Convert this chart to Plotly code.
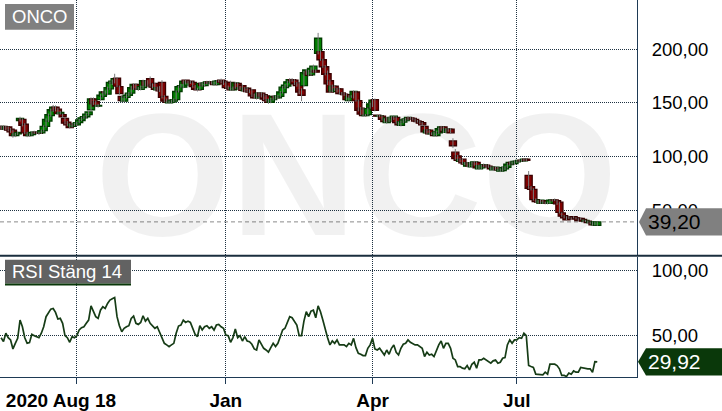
import numpy as np
import pandas as pd
import plotly.graph_objects as go

W, H = 722, 411
FONT = "Liberation Sans"

# Stockholm trading days, Aug 18 2020 - Aug 18 2021
holidays = ["2020-12-24", "2020-12-25", "2020-12-31", "2021-01-01", "2021-01-06",
            "2021-04-02", "2021-04-05", "2021-05-13", "2021-06-25"]
dates = pd.bdate_range("2020-08-18", "2021-08-18", freq="C", holidays=holidays)

opens = [
    126, 128, 125.5, 127.5, 125.5, 124.5, 119.5, 121, 133.5, 134.5,
    130, 122, 119.5, 120.5, 122, 122.5, 122, 122, 124, 128,
    133, 138, 142.5, 146, 144, 140, 139, 135.5, 132, 130,
    128, 130, 129.5, 131.5, 133.5, 136, 137, 139, 143.5, 153.5,
    151, 147, 153, 156, 160, 158, 163, 168, 169, 173,
    165, 156, 151.5, 155, 157, 159, 163, 167, 163, 162.5,
    164, 170, 166, 172.5, 167, 168, 162, 164, 169, 156,
    152.5, 150, 150.5, 151.5, 153, 160.5, 165, 164.5, 171, 166.5,
    170, 169, 166, 163, 162.5, 168, 166, 168, 169.5, 168,
    169, 167, 170, 171, 170, 169, 164, 169, 162, 164,
    168, 163, 166, 161, 163.5, 161, 162, 157, 159, 154.5,
    159, 157.5, 156.5, 153, 150.5, 153, 156, 154.5, 156, 159.5,
    164, 165.5, 169, 171.5, 171, 168, 168.5, 162, 166, 177,
    179.5, 176, 179, 180, 196, 197.5, 190, 183.5, 177, 170.5,
    161, 165.5, 160.5, 163, 159, 158, 157.5, 152, 156, 155,
    160, 152, 145, 144, 138, 139, 145.5, 147, 153, 138.5,
    137.5, 137.5, 134.5, 131.5, 136, 133, 135, 136.5, 131.5, 129,
    132, 133.5, 134.5, 136, 135.5, 134.5, 133, 132.5, 131.5, 128,
    122, 124.5, 121, 122, 119.5, 122, 125, 127.5, 122.5, 124,
    125.5, 114.5, 104, 100.5, 95.5, 97.5, 94, 91, 94, 90.5,
    92.5, 94.5, 88.5, 89.5, 91, 92, 91, 90, 87.5, 88.5,
    89.5, 86.5, 87, 88.5, 90, 92.5, 94.5, 93.5, 95, 95.5,
    96.5, 96, 97.5, 82.5, 72, 69.5, 60, 58, 56.5, 59,
    56.5, 57.5, 56.5, 59, 59.5, 59, 57.5, 47.5, 45, 44,
    44, 43, 44, 43, 42.5, 42.5, 41.5, 40, 40, 38.5,
    38.5, 36.5, 36,
]
highs = [
    129, 129, 128.5, 128, 126.5, 125, 122, 123, 137, 135.5,
    131, 123, 121.5, 123.5, 124, 123.5, 123, 125, 129, 135.5,
    140, 144.5, 148, 147.5, 145, 142.5, 140, 136.5, 133, 131,
    131, 131.5, 132.5, 135, 137, 138, 140.5, 142.5, 155, 155,
    152, 149, 158, 161, 161.5, 165, 170, 171.5, 177, 174,
    166, 157, 156, 158.5, 160, 165.5, 168, 168, 164.5, 166,
    171.5, 171, 171, 174.5, 168, 169, 165, 165.5, 171, 157,
    154, 152, 153, 154, 161.5, 166, 167.5, 171, 172, 170.5,
    171, 170, 166.5, 164, 169, 169, 169.5, 170.5, 170.5, 170,
    170, 171, 172, 172.5, 171, 170, 166, 170.5, 165, 169.5,
    169, 165.5, 167, 164.5, 164.5, 162.5, 163, 158.5, 160, 160,
    160, 158.5, 157.5, 154, 154.5, 157, 157, 157.5, 161, 165.5,
    167.5, 170.5, 173, 173, 172, 169.5, 169.5, 163.5, 179.5, 181.5,
    180.5, 183, 185.5, 181, 215, 199, 191, 185, 180, 171.5,
    167, 166.5, 164, 164, 160, 159.5, 158.5, 157, 157, 161.5,
    161, 153, 146, 145, 139.5, 145.5, 150, 153.5, 154, 139,
    139, 138.5, 135.5, 137, 137, 137.5, 138.5, 137.5, 132.5, 133.5,
    135, 136, 137.5, 137, 136.5, 135.5, 134, 133.5, 132, 128.5,
    125.5, 125, 122.5, 123, 124, 127, 128.5, 128, 126.5, 126.5,
    126.5, 117, 107, 101.5, 98.5, 98, 95, 95, 95, 95,
    96, 95.5, 92.5, 92.5, 93.5, 93, 92, 91, 90.5, 91,
    90.5, 89, 90.5, 91, 94, 95.5, 95.5, 96.5, 96.5, 97.5,
    97.5, 98.5, 98.5, 86.5, 72.5, 70.5, 61, 59.5, 60, 59.5,
    58, 58, 60, 60.5, 61, 59.5, 58, 48, 45.5, 44.5,
    44.5, 43.5, 44.5, 43.5, 42.5, 43, 41.5, 41, 40.5, 39.5,
    39, 39, 39.6,
]
lows = [
    125, 124.5, 124.5, 123.5, 122, 117.5, 118, 120, 132.5, 128,
    121, 118, 118.5, 119.5, 121, 120.5, 120, 121, 123, 127,
    132, 137, 141.5, 142, 139, 139, 136, 130, 128.5, 126,
    127, 128.5, 128.5, 131, 133, 135, 136, 138, 142.5, 148,
    146, 145.5, 152, 155, 157.5, 157, 162, 166.5, 168, 164.5,
    157.5, 150.5, 150.5, 154, 156, 158, 162, 162, 161, 161.5,
    163, 165, 165, 165, 163.5, 161.5, 161, 160, 154, 150.5,
    149.5, 149, 149.5, 150.5, 152, 159.5, 164, 163.5, 167, 165.5,
    167.5, 164, 161.5, 160.5, 161.5, 165, 165, 167, 167, 167,
    166, 166, 169, 168, 166.5, 163, 162.5, 161, 161, 163,
    162, 162, 160.5, 160, 159.5, 159, 155.5, 153.5, 153, 153.5,
    155, 152.5, 151, 149, 149.5, 152, 153, 153.5, 155, 158.5,
    163, 164.5, 168, 169.5, 166.5, 165, 158, 151.5, 165, 176,
    174.5, 175, 178, 177.5, 195, 189, 182.5, 175.5, 166.5, 159,
    160, 161, 159.5, 157.5, 157, 156.5, 152, 151, 154.5, 154,
    151, 142, 138.5, 137, 137, 138, 144.5, 146, 142, 136.5,
    136.5, 133.5, 131.5, 130.5, 132, 132, 134, 130.5, 128.5, 128,
    131, 132.5, 133.5, 134, 133.5, 132, 131.5, 130, 128.5, 122,
    121, 120, 120, 118.5, 118.5, 121, 124, 122, 121.5, 123,
    121, 108, 97, 95.5, 94.5, 93, 92, 90, 90, 89.5,
    91.5, 88.5, 87.5, 88.5, 90, 90, 89.5, 87.5, 86.5, 87.5,
    86.5, 85.5, 86, 87.5, 89, 91.5, 92.5, 92.5, 94, 94.5,
    95, 95, 95.5, 70, 68.5, 59, 57, 56, 56, 56,
    55.5, 55.5, 56, 58, 58.5, 55, 47, 44, 42.5, 40.5,
    42, 41.5, 42.5, 41.5, 40, 41, 39, 39, 38, 37,
    36, 36, 35.5,
]
closes = [
    128, 125.5, 127.5, 124.5, 123, 119.5, 121, 122.5, 135.5, 129,
    122, 119.5, 120.5, 122.5, 122.5, 122, 121.5, 124, 128, 134.5,
    139, 143.5, 146, 143, 140, 141, 137, 131, 129.5, 127,
    130, 129.5, 131.5, 134, 136, 137, 139.5, 141.5, 153.5, 149,
    147, 147.5, 157, 160, 159.5, 164, 169, 170, 172.5, 165.5,
    158.5, 152, 155, 157, 159, 164, 167, 163, 162.5, 165,
    170.5, 166, 170, 166, 164.5, 162.5, 164, 161, 155, 151.5,
    150.5, 150.5, 152, 153, 160.5, 165, 166, 170, 168, 169.5,
    168.5, 165, 162.5, 162, 168, 166, 168.5, 169.5, 168, 169,
    167, 170, 170.5, 169, 167.5, 164, 163.5, 162, 164, 168.5,
    163, 164, 161.5, 163.5, 160.5, 160, 156.5, 154.5, 154.5, 159,
    156, 153.5, 152, 150.5, 153, 156, 154.5, 156.5, 160, 164.5,
    166.5, 169.5, 171.5, 170.5, 167.5, 166, 160, 157, 178, 180.5,
    175.5, 182, 184, 178.5, 210, 190, 183.5, 176.5, 167.5, 160,
    165.5, 162, 163, 158.5, 158.5, 157.5, 153, 156, 155.5, 160.5,
    152, 143, 139.5, 138, 138.5, 144.5, 149, 152.5, 143, 137.5,
    138, 134.5, 132.5, 136, 133, 136.5, 137.5, 131.5, 129.5, 132.5,
    134, 135, 136.5, 135, 134.5, 133, 132.5, 131, 129.5, 123,
    124.5, 121, 121.5, 119.5, 123, 126, 127.5, 123, 125.5, 125.5,
    122, 110, 98, 96.5, 97, 94, 93, 94, 91, 94,
    95, 89.5, 91.5, 91.5, 92.5, 91, 90.5, 88.5, 89.5, 90,
    87.5, 88, 89.5, 90, 93, 94.5, 93.5, 95.5, 95.5, 96.5,
    96, 97.5, 96.5, 70.5, 69.5, 60, 58, 57.5, 59.5, 57,
    57.5, 56.5, 59.5, 59.5, 59, 56, 48, 44.5, 43, 41,
    42.5, 42, 43, 42, 40.5, 41.5, 40, 40, 38.5, 38.5,
    36.5, 38.5, 39.2,
]
rsi_values = [
    48.4, 45.4, 51.8, 48.4, 46.7, 39.8, 44.1, 47.9, 61.9, 56.8,
    48.4, 44.1, 44.6, 51.0, 50.0, 49.2, 48.4, 51.8, 56.8, 64.5,
    67.8, 70.3, 70.8, 67.8, 62.7, 63.2, 59.4, 50.0, 48.4, 44.9,
    49.2, 48.4, 50.0, 54.3, 56.1, 56.8, 59.4, 61.9, 72.8, 68.3,
    64.5, 63.2, 69.5, 72.1, 70.8, 74.6, 77.2, 78.2, 79.2, 64.5,
    57.6, 53.0, 55.6, 56.8, 57.6, 63.2, 65.0, 59.4, 58.6, 60.1,
    65.2, 61.1, 63.2, 59.4, 57.6, 55.6, 56.8, 53.0, 48.5, 44.1,
    42.9, 41.6, 42.9, 44.1, 51.8, 57.3, 58.1, 61.9, 60.1, 61.1,
    60.1, 55.6, 51.0, 49.2, 57.6, 54.3, 56.8, 57.6, 55.6, 56.8,
    54.3, 58.1, 58.6, 56.8, 55.6, 50.5, 50.0, 44.9, 48.5, 55.0,
    48.4, 50.0, 45.9, 49.2, 45.9, 45.4, 43.4, 39.8, 39.0, 46.7,
    43.4, 40.3, 39.0, 37.3, 40.8, 44.1, 41.6, 44.1, 49.2, 54.3,
    55.6, 60.1, 64.5, 63.7, 61.1, 58.1, 50.0, 50.0, 61.1, 68.3,
    64.5, 68.8, 69.5, 63.7, 72.8, 68.3, 61.9, 54.3, 48.4, 42.9,
    45.9, 44.1, 46.7, 42.9, 42.9, 42.9, 41.6, 44.1, 42.9, 47.9,
    40.8, 36.5, 35.7, 34.7, 34.7, 40.3, 42.9, 47.9, 39.8, 39.0,
    40.3, 37.3, 35.2, 39.0, 35.7, 40.3, 42.9, 37.3, 35.2, 40.3,
    43.4, 44.1, 46.7, 44.9, 44.1, 42.9, 42.9, 41.6, 40.3, 34.0,
    37.3, 35.2, 35.7, 34.0, 39.0, 42.9, 45.9, 40.3, 44.1, 44.1,
    40.3, 32.7, 31.4, 26.3, 26.3, 25.1, 24.6, 27.1, 23.8, 28.1,
    29.6, 25.1, 31.4, 31.4, 32.7, 31.4, 30.7, 28.9, 30.7, 31.4,
    28.9, 29.6, 32.7, 33.2, 42.9, 46.7, 44.1, 46.7, 46.7, 48.4,
    47.9, 51.8, 50.0, 27.1, 26.3, 25.6, 20.5, 20.5, 20.5, 20.0,
    22.0, 20.5, 28.1, 28.1, 28.1, 27.1, 24.6, 19.5, 19.5, 18.7,
    21.3, 20.5, 23.0, 22.0, 22.0, 25.6, 25.1, 25.1, 24.6, 24.6,
    22.0, 30.1, 29.92,
]

tick_months = ["2020-10", "2021-01", "2021-04", "2021-07"]
tick_labels = ["2020 Aug 18" + "\u00a0" * 6, "Jan", "Apr", "Jul"]
price_ticks = [50, 100, 150, 200]
rsi_ticks = [50, 100]

n = len(dates)
assert n == len(opens) == len(highs) == len(lows) == len(closes) == len(rsi_values)
x = np.arange(n)
o = np.array(opens, dtype=float)
c = np.array(closes, dtype=float)

months = np.array(dates.strftime("%Y-%m"))
tick_pos = [int(np.argmax(months == m)) for m in tick_months]

# colours
GREEN, GREEN_EDGE = "#008000", "#003c00"
RED, RED_EDGE = "#800000", "#3a0000"
WICK = "#7c7c7c"
GRID = "#1e3242"
AXIS = "#1e3a55"
RSI_GREEN = "#163c16"

XR = [-0.47, 268.8]
PR = [7.7, 245.6]
RR = [18.2, 110.4]

def px(v):
    return v / W

def py(v):
    return 1 - v / H

up = c >= o
body_base = np.minimum(o, c)
body_h = np.maximum(np.abs(c - o), 0.6)

wick_x, wick_y = [], []
for i in range(n):
    wick_x += [int(x[i]), int(x[i]), None]
    wick_y += [lows[i], highs[i], None]

fig = go.Figure()

# faint watermark behind everything
fig.add_trace(go.Scatter(
    x=[(XR[0] + XR[1]) / 2 + 16], y=[PR[0] + (PR[1] - PR[0]) * 0.25],
    mode="text", text=["ONCO"],
    textfont=dict(family=FONT, size=174, color="rgba(0,0,0,0.055)", weight="bold"),
    xaxis="x2", yaxis="y", hoverinfo="skip",
))
fig.add_trace(go.Scatter(
    x=wick_x, y=wick_y, mode="lines", line=dict(color=WICK, width=1),
    xaxis="x2", yaxis="y", hoverinfo="skip",
))
fig.add_trace(go.Bar(
    x=x, y=body_h, base=body_base, width=3.0,
    marker=dict(color=np.where(up, GREEN, RED).tolist(),
                line=dict(color=np.where(up, GREEN_EDGE, RED_EDGE).tolist(), width=1.3)),
    xaxis="x2", yaxis="y", hoverinfo="skip",
))
fig.add_trace(go.Scatter(
    x=x, y=rsi_values, mode="lines", line=dict(color=RSI_GREEN, width=1.7),
    xaxis="x", yaxis="y2", hoverinfo="skip",
))

grid = dict(showgrid=True, gridcolor=GRID, gridwidth=1, griddash="1px,1px", zeroline=False)
ytick = dict(family=FONT, size=18.5, color="black")

fig.update_layout(
    width=W, height=H, margin=dict(l=0, r=0, t=0, b=0),
    paper_bgcolor="white", plot_bgcolor="white",
    showlegend=False, barmode="overlay", separators=", ",
    xaxis=dict(domain=[0, px(637)], range=XR, anchor="y2",
               tickvals=tick_pos, ticktext=tick_labels,
               ticks="outside", ticklen=6, tickcolor=AXIS,
               showline=True, linecolor=AXIS, linewidth=1,
               tickfont=dict(family=FONT, size=19, color="black", weight="bold"), **grid),
    xaxis2=dict(domain=[0, px(637)], matches="x", anchor="y",
                tickvals=tick_pos, showticklabels=False, ticks="", **grid),
    yaxis=dict(domain=[py(257), 1], range=PR, side="right", anchor="x2",
               tickvals=price_ticks, tickformat=".2f",
               ticks="outside", ticklen=10, tickcolor="rgba(0,0,0,0)",
               showline=True, linecolor=AXIS, linewidth=1, tickfont=ytick, **grid),
    yaxis2=dict(domain=[py(379), py(258)], range=RR, side="right", anchor="x",
                tickvals=rsi_ticks, tickformat=".2f",
                ticks="outside", ticklen=10, tickcolor="rgba(0,0,0,0)",
                showline=True, linecolor=AXIS, linewidth=1, tickfont=ytick, **grid),
)

last_p = closes[-1]
last_r = rsi_values[-1]
hp = 12.7
hr = 10.4

shapes = [
    dict(type="line", xref="paper", yref="y", x0=0, x1=px(637), y0=last_p, y1=last_p,
         line=dict(color="#8a8a8a", width=1, dash="4px,3px"), layer="below"),
    dict(type="line", xref="paper", yref="paper", x0=0, x1=1, y0=py(257), y1=py(257),
         line=dict(color="#1a2e3e", width=2)),
    dict(type="path", xref="paper", yref="y", fillcolor="#808080", line=dict(width=0),
         path=f"M {px(639)},{last_p} L {px(646)},{last_p + hp} L 1,{last_p + hp} "
              f"L 1,{last_p - hp} L {px(646)},{last_p - hp} Z"),
    dict(type="path", xref="paper", yref="y2", fillcolor="#0a380a", line=dict(width=0),
         path=f"M {px(638)},{last_r} L {px(646)},{last_r + hr} L 1,{last_r + hr} "
              f"L 1,{last_r - hr} L {px(646)},{last_r - hr} Z"),
    dict(type="rect", xref="paper", yref="paper", x0=px(5), x1=px(74), y0=py(30), y1=py(4),
         fillcolor="#808080", line=dict(width=0)),
    dict(type="rect", xref="paper", yref="paper", x0=px(5), x1=px(131), y0=py(285), y1=py(261),
         fillcolor="#626262", line=dict(width=0)),
    dict(type="line", xref="paper", yref="paper", x0=px(5), x1=px(131), y0=py(286), y1=py(286),
         line=dict(color="#0a380a", width=2)),
]
fig.update_layout(shapes=shapes)

def comma(v):
    return f"{v:.2f}".replace(".", ",")

fig.update_layout(annotations=[
    dict(text=comma(last_p), xref="paper", yref="y", x=px(646), y=last_p,
         xanchor="left", yanchor="middle", showarrow=False,
         font=dict(family=FONT, size=21, color="black")),
    dict(text=comma(last_r), xref="paper", yref="y2", x=px(646), y=last_r,
         xanchor="left", yanchor="middle", showarrow=False,
         font=dict(family=FONT, size=21, color="white")),
    dict(text="ONCO", xref="paper", yref="paper", x=px(10), y=py(17),
         xanchor="left", yanchor="middle", showarrow=False,
         font=dict(family=FONT, size=18.5, color="white")),
    dict(text="RSI Stäng 14", xref="paper", yref="paper", x=px(10), y=py(273),
         xanchor="left", yanchor="middle", showarrow=False,
         font=dict(family=FONT, size=18.5, color="white")),
])

# page body margin off so the figure sits at the window origin
fig.write_html("out.html", config={"displayModeBar": False},
               post_script="document.body.style.margin='0px';")
